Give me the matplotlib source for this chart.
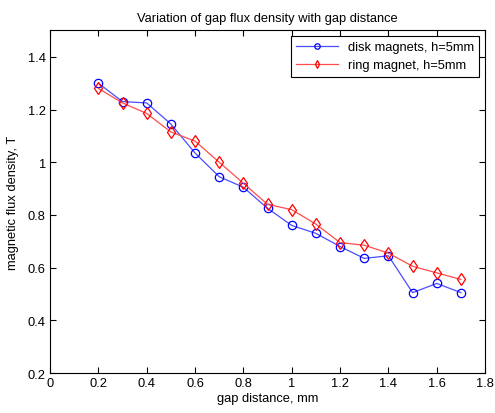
import matplotlib
matplotlib.use('Agg')
import matplotlib.pyplot as plt

# gap distance (mm)
gap = [0.2, 0.3, 0.4, 0.5, 0.6, 0.7, 0.8, 0.9, 1.0, 1.1, 1.2, 1.3, 1.4, 1.5, 1.6, 1.7]
# flux density (T)
disk = [1.30, 1.23, 1.225, 1.145, 1.035, 0.945, 0.905, 0.825, 0.76, 0.73, 0.68, 0.635, 0.645, 0.505, 0.54, 0.505]
ring = [1.28, 1.225, 1.185, 1.115, 1.08, 1.00, 0.92, 0.84, 0.82, 0.765, 0.695, 0.685, 0.655, 0.605, 0.58, 0.555]

plt.rcParams['font.family'] = ['Liberation Sans', 'DejaVu Sans']
plt.rcParams['font.size'] = 9.3

fig = plt.figure(figsize=(4.95, 4.14), dpi=100)
ax = fig.add_axes([0.101, 0.0966, 0.879, 0.8274])

ax.plot(gap, disk, color='#4d4dff', lw=0.9, marker='o', markersize=6,
        markerfacecolor='none', markeredgecolor='#0000ff', markeredgewidth=0.9,
        label='disk magnets, h=5mm')
ax.plot(gap, ring, color='#ff4d4d', lw=0.9, marker='d', markersize=6.5,
        markerfacecolor='none', markeredgecolor='#ff0000', markeredgewidth=0.9,
        label='ring magnet, h=5mm')

ax.set_xlim(0, 1.8)
ax.set_ylim(0.2, 1.5)
ax.set_xticks([0, 0.2, 0.4, 0.6, 0.8, 1, 1.2, 1.4, 1.6, 1.8])
ax.set_xticklabels(['0', '0.2', '0.4', '0.6', '0.8', '1', '1.2', '1.4', '1.6', '1.8'])
ax.set_yticks([0.2, 0.4, 0.6, 0.8, 1, 1.2, 1.4])
ax.set_yticklabels(['0.2', '0.4', '0.6', '0.8', '1', '1.2', '1.4'])
ax.tick_params(direction='in', top=True, right=True, length=4, width=0.8, pad=3)
for s in ax.spines.values():
    s.set_linewidth(0.8)

ax.set_xlabel('gap distance, mm', labelpad=2)
ax.set_ylabel('magnetic flux density, T', labelpad=6)
ax.set_title('Variation of gap flux density with gap distance', fontsize=9.3, pad=7)

leg = ax.legend(loc='upper right', fancybox=False, edgecolor='black', framealpha=1,
                borderaxespad=0.45, handlelength=3.2, markerscale=0.65,
                labelspacing=0.45, borderpad=0.4)
leg.get_frame().set_linewidth(0.8)

fig.savefig('out.png', dpi=100)
